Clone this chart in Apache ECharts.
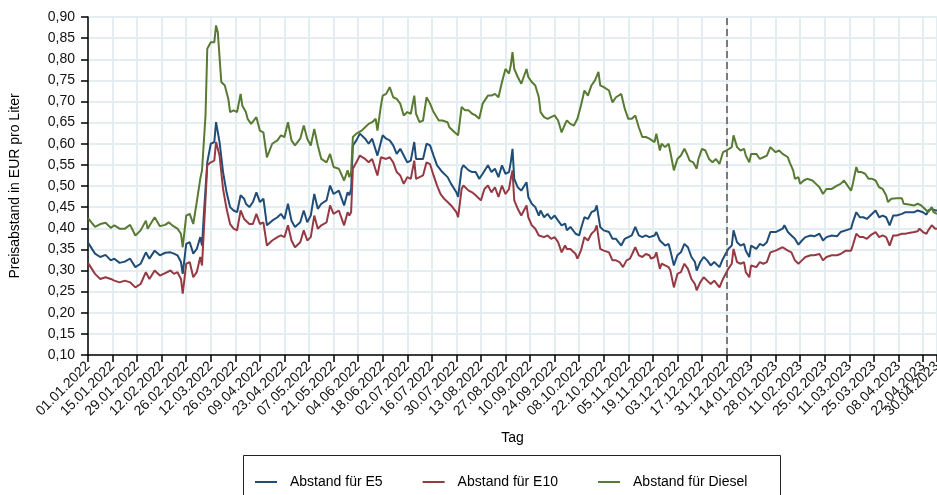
<!DOCTYPE html>
<html>
<head>
<meta charset="utf-8">
<script src="https://cdn.jsdelivr.net/npm/echarts@6/dist/echarts.min.js"></script>
<style>
html,body{margin:0;padding:0;background:#fff;}
#chart{width:937px;height:495px;}
</style>
</head>
<body>
<div id="chart"></div>
<script>
// Days counted from 01.01.2022 (day 0) to 30.04.2023 (day 484)
const startDate = [2022, 0, 1];
const dayCount = 485;
const markerDay = '31.12.2022';

// [day, EUR per litre]
const e5 = [[0,.366],[1,.363],[4,.340],[7,.332],[10,.337],[13,.324],[15,.328],[18,.318],[21,.321],[24,.328],[27,.308],[30,.316],[33,.343],[35,.328],[38,.347],[41,.336],[44,.342],[47,.343],[49,.340],[51,.336],[53,.320],[54,.292],[56,.363],[58,.367],[60,.340],[62,.351],[64,.379],[65,.359],[66,.430],[68,.556],[70,.600],[72,.604],[73,.651],[75,.604],[77,.533],[79,.485],[81,.450],[83,.442],[85,.438],[87,.478],[89,.470],[90,.458],[92,.450],[94,.462],[96,.485],[98,.462],[100,.470],[102,.407],[105,.418],[108,.426],[110,.434],[112,.422],[114,.458],[116,.418],[118,.403],[121,.414],[123,.442],[125,.414],[127,.430],[129,.481],[131,.446],[133,.458],[136,.466],[138,.501],[140,.481],[143,.489],[146,.454],[148,.485],[149,.478],[150,.493],[151,.596],[153,.608],[155,.624],[158,.612],[160,.600],[162,.612],[165,.572],[167,.604],[168,.620],[170,.612],[172,.608],[174,.596],[176,.576],[178,.588],[180,.572],[182,.556],[184,.560],[186,.604],[187,.564],[188,.560],[191,.564],[193,.600],[195,.596],[197,.572],[199,.549],[202,.533],[205,.521],[207,.505],[210,.485],[211,.474],[213,.541],[214,.549],[217,.537],[219,.533],[221,.533],[223,.517],[225,.529],[228,.549],[230,.533],[232,.541],[234,.521],[236,.549],[238,.529],[240,.533],[241,.556],[242,.588],[243,.517],[245,.497],[247,.489],[250,.509],[251,.474],[253,.458],[255,.450],[257,.430],[258,.442],[260,.426],[262,.434],[264,.422],[266,.430],[268,.418],[270,.407],[272,.411],[273,.395],[275,.403],[278,.387],[280,.383],[281,.399],[283,.426],[285,.422],[287,.438],[289,.442],[290,.454],[292,.403],[294,.395],[297,.391],[299,.375],[301,.375],[304,.359],[306,.375],[308,.379],[310,.383],[312,.403],[314,.383],[316,.379],[318,.383],[320,.379],[321,.375],[323,.383],[324,.391],[326,.371],[327,.367],[329,.359],[331,.363],[332,.347],[334,.312],[336,.336],[338,.343],[340,.363],[342,.355],[344,.332],[346,.320],[347,.300],[349,.320],[351,.332],[353,.324],[355,.312],[357,.320],[358,.324],[360,.308],[362,.328],[364,.343],[365,.351],[367,.359],[368,.395],[370,.367],[372,.359],[374,.363],[375,.347],[377,.332],[378,.359],[381,.351],[383,.363],[385,.359],[387,.367],[389,.391],[392,.391],[394,.395],[396,.399],[397,.407],[399,.391],[401,.383],[403,.375],[405,.361],[407,.371],[409,.379],[412,.383],[414,.381],[417,.387],[419,.371],[421,.379],[424,.383],[427,.381],[429,.391],[432,.395],[435,.399],[436,.414],[438,.438],[440,.426],[442,.426],[444,.422],[446,.430],[449,.442],[451,.426],[453,.430],[455,.426],[457,.407],[459,.430],[461,.430],[464,.434],[466,.438],[468,.438],[471,.438],[473,.442],[474,.446],[476,.438],[478,.432],[479,.442],[481,.446],[483,.442],[484,.442]];

const e10 = [[0,.318],[1,.316],[4,.292],[7,.280],[10,.284],[13,.280],[15,.276],[18,.272],[21,.276],[24,.272],[27,.260],[30,.268],[33,.296],[35,.280],[38,.300],[41,.288],[44,.294],[47,.300],[49,.292],[51,.296],[53,.280],[54,.245],[56,.316],[58,.320],[60,.284],[62,.296],[64,.332],[65,.312],[66,.390],[68,.549],[70,.556],[72,.560],[73,.604],[75,.572],[77,.493],[79,.446],[81,.410],[83,.399],[85,.395],[87,.442],[89,.422],[90,.422],[92,.410],[94,.410],[96,.434],[98,.410],[100,.414],[102,.359],[105,.371],[108,.379],[110,.383],[112,.379],[114,.407],[116,.371],[118,.355],[121,.367],[123,.395],[125,.371],[127,.379],[129,.430],[131,.399],[133,.407],[136,.414],[138,.454],[140,.434],[143,.442],[146,.407],[148,.438],[149,.430],[150,.438],[151,.541],[153,.556],[155,.572],[158,.564],[160,.556],[162,.564],[165,.525],[167,.568],[168,.572],[170,.564],[172,.568],[174,.556],[176,.533],[178,.525],[180,.505],[182,.521],[184,.517],[186,.560],[187,.517],[188,.517],[191,.525],[193,.556],[195,.552],[197,.525],[199,.501],[201,.481],[203,.470],[205,.462],[207,.454],[210,.438],[211,.426],[213,.493],[214,.501],[217,.489],[219,.485],[221,.478],[224,.466],[226,.493],[228,.501],[230,.485],[232,.497],[234,.474],[236,.501],[238,.481],[240,.493],[241,.517],[242,.537],[243,.466],[245,.446],[247,.430],[250,.454],[251,.426],[253,.407],[255,.399],[257,.383],[258,.383],[260,.379],[262,.383],[264,.375],[266,.379],[268,.367],[270,.343],[272,.359],[273,.351],[275,.351],[278,.339],[279,.328],[281,.347],[283,.379],[285,.371],[287,.387],[289,.395],[290,.407],[292,.351],[294,.347],[297,.343],[299,.324],[301,.324],[303,.320],[305,.308],[307,.324],[309,.328],[312,.355],[314,.336],[316,.332],[318,.339],[320,.336],[321,.328],[323,.332],[324,.343],[326,.304],[327,.316],[329,.312],[331,.308],[332,.300],[334,.260],[336,.292],[338,.296],[340,.316],[342,.304],[344,.280],[346,.268],[347,.253],[349,.272],[351,.284],[353,.276],[355,.268],[357,.276],[358,.276],[360,.260],[362,.280],[364,.296],[365,.304],[367,.316],[368,.351],[370,.320],[372,.316],[374,.320],[375,.296],[377,.284],[378,.312],[381,.308],[383,.320],[385,.316],[387,.320],[389,.343],[392,.347],[394,.351],[396,.355],[397,.355],[399,.347],[401,.343],[403,.324],[405,.316],[407,.324],[409,.332],[412,.336],[414,.336],[417,.339],[419,.324],[421,.332],[424,.336],[427,.336],[429,.339],[432,.347],[435,.347],[436,.359],[438,.387],[440,.379],[442,.379],[444,.375],[446,.383],[449,.391],[451,.379],[453,.383],[455,.379],[457,.359],[459,.383],[461,.383],[464,.387],[466,.387],[468,.389],[471,.391],[473,.393],[474,.399],[476,.391],[478,.387],[479,.395],[481,.407],[483,.399],[484,.399]];

const diesel = [[0,.424],[1,.422],[4,.403],[7,.410],[10,.413],[13,.401],[15,.407],[18,.399],[21,.399],[24,.408],[27,.383],[30,.395],[33,.418],[34,.399],[38,.426],[41,.405],[44,.408],[46,.414],[48,.407],[51,.399],[53,.387],[54,.355],[56,.430],[58,.434],[60,.410],[62,.462],[64,.517],[65,.537],[66,.533],[67,.667],[68,.825],[70,.840],[72,.840],[73,.880],[74,.864],[76,.746],[78,.738],[80,.706],[81,.675],[83,.679],[85,.675],[87,.718],[88,.690],[90,.675],[91,.659],[93,.647],[96,.663],[98,.631],[100,.627],[102,.568],[105,.600],[108,.608],[110,.620],[112,.616],[114,.651],[116,.608],[118,.596],[121,.612],[123,.643],[125,.612],[127,.596],[129,.635],[131,.596],[133,.564],[136,.556],[138,.576],[140,.545],[143,.541],[146,.513],[148,.537],[149,.521],[150,.533],[151,.616],[153,.624],[156,.631],[158,.639],[160,.647],[162,.651],[164,.659],[165,.631],[167,.690],[168,.714],[170,.718],[172,.734],[174,.710],[176,.706],[178,.695],[180,.667],[182,.675],[184,.671],[186,.714],[187,.671],[189,.651],[191,.655],[193,.710],[195,.695],[197,.675],[200,.655],[202,.655],[205,.651],[206,.639],[209,.627],[211,.620],[213,.687],[215,.679],[217,.679],[219,.671],[221,.667],[223,.659],[225,.695],[228,.714],[230,.714],[232,.718],[234,.710],[236,.746],[238,.777],[240,.766],[241,.785],[242,.817],[243,.777],[245,.758],[247,.742],[250,.777],[251,.758],[253,.746],[255,.738],[257,.710],[258,.675],[260,.663],[262,.659],[264,.663],[266,.667],[268,.655],[270,.627],[272,.647],[273,.655],[275,.647],[277,.643],[279,.659],[281,.690],[283,.726],[285,.714],[287,.738],[289,.750],[291,.770],[292,.738],[294,.734],[297,.726],[299,.698],[301,.710],[304,.718],[306,.683],[308,.659],[310,.659],[312,.667],[314,.639],[316,.616],[318,.616],[320,.612],[321,.616],[323,.604],[324,.624],[326,.584],[327,.600],[329,.592],[331,.600],[332,.580],[334,.537],[336,.564],[338,.572],[340,.588],[341,.580],[343,.560],[345,.556],[347,.541],[348,.564],[350,.588],[352,.584],[354,.564],[356,.556],[358,.564],[359,.568],[360,.552],[362,.580],[364,.584],[365,.588],[367,.592],[368,.620],[370,.592],[372,.584],[374,.588],[375,.572],[377,.556],[378,.576],[381,.576],[383,.564],[385,.568],[387,.572],[389,.592],[392,.580],[394,.584],[396,.576],[397,.580],[399,.568],[400,.556],[402,.537],[403,.517],[405,.521],[406,.505],[408,.513],[410,.517],[413,.513],[415,.505],[417,.497],[419,.481],[421,.493],[424,.493],[427,.501],[429,.505],[431,.513],[433,.501],[435,.489],[436,.505],[438,.545],[439,.533],[441,.533],[443,.529],[445,.517],[447,.517],[449,.513],[451,.497],[453,.493],[455,.478],[456,.462],[458,.470],[461,.471],[464,.471],[465,.458],[468,.456],[471,.454],[473,.458],[475,.454],[477,.446],[479,.438],[481,.450],[482,.438],[484,.434]];

const seriesNames = ['Abstand für E5', 'Abstand für E10', 'Abstand für Diesel'];
const seriesColors = ['#1f4d78', '#953a43', '#587a33'];
const yTitle = 'Preisabstand in EUR pro Liter';
const xTitle = 'Tag';

// category labels DD.MM.YYYY
const pad = n => (n < 10 ? '0' : '') + n;
const days = [];
for (let i = 0; i < dayCount; i++) {
  const d = new Date(Date.UTC(startDate[0], startDate[1], startDate[2] + i));
  days.push(pad(d.getUTCDate()) + '.' + pad(d.getUTCMonth() + 1) + '.' + d.getUTCFullYear());
}
function fill(pairs) {
  const arr = new Array(dayCount).fill(null);
  pairs.forEach(p => { arr[p[0]] = p[1]; });
  return arr;
}
const lastIdx = dayCount - 1;
const isRegular = (idx) => idx % 14 === 0;
const showTick = (idx) => isRegular(idx) || idx === lastIdx;
const FONT = '"Liberation Sans", Arial, Helvetica, sans-serif';

const chart = echarts.init(document.getElementById('chart'), null, {renderer: 'canvas'});
const gridColor = '#e4edf0';
const labelBase = {rotate: 45, fontSize: 14, color: '#111', margin: 9, fontFamily: FONT, hideOverlap: false};
chart.setOption({
  animation: false,
  backgroundColor: '#fff',
  textStyle: {fontFamily: FONT},
  grid: {left: 88, right: 0, top: 17, bottom: 140, outerBoundsMode: 'none', containLabel: false},
  legend: {
    left: 250, top: 470,
    itemWidth: 22, itemHeight: 2, itemGap: 40,
    icon: 'rect',
    textStyle: {fontSize: 14, color: '#000', fontFamily: FONT, padding: [0, 0, 0, 8]},
    data: seriesNames
  },
  graphic: [{
    type: 'rect', silent: true,
    shape: {x: 243.5, y: 455.5, width: 537, height: 60},
    style: {fill: 'none', stroke: '#222', lineWidth: 1}
  }],
  xAxis: [{
    type: 'category',
    data: days,
    boundaryGap: false,
    name: xTitle,
    nameLocation: 'middle',
    nameGap: 76,
    nameTextStyle: {fontSize: 14, color: '#000', fontFamily: FONT},
    axisLine: {show: true, onZero: false, lineStyle: {color: '#000', width: 1.5}},
    axisTick: {show: true, interval: (i) => showTick(i), length: 7, lineStyle: {color: '#000', width: 1.5}},
    axisLabel: Object.assign({interval: (i) => isRegular(i)}, labelBase),
    splitLine: {show: true, interval: (i) => showTick(i), lineStyle: {color: gridColor, width: 2}}
  }, {
    // second axis only carries the closing date label, so it may overlap the previous one
    type: 'category',
    data: days,
    boundaryGap: false,
    position: 'bottom',
    axisLine: {show: false, onZero: false},
    axisTick: {show: false},
    splitLine: {show: false},
    axisLabel: Object.assign({interval: (i) => i === lastIdx, showMaxLabel: true}, labelBase)
  }],
  yAxis: {
    type: 'value',
    min: 0.1, max: 0.9, interval: 0.05,
    name: yTitle,
    nameLocation: 'middle',
    nameGap: 66,
    nameTextStyle: {fontSize: 14, color: '#000', fontFamily: FONT},
    axisLine: {show: true, lineStyle: {color: '#000', width: 1.5}},
    axisTick: {show: true, length: 7, lineStyle: {color: '#000', width: 1.5}},
    axisLabel: {fontSize: 14, color: '#111', margin: 13, fontFamily: FONT,
      formatter: v => v.toFixed(2).replace('.', ',')},
    splitLine: {show: true, lineStyle: {color: gridColor, width: 2}}
  },
  series: [e5, e10, diesel].map((d, i) => ({
    name: seriesNames[i],
    type: 'line',
    xAxisIndex: 0,
    data: fill(d),
    connectNulls: true,
    showSymbol: false,
    symbol: 'none',
    color: seriesColors[i],
    lineStyle: {color: seriesColors[i], width: 2},
    z: 3 + i,
    markLine: i === 0 ? {
      silent: true, symbol: ['none', 'none'],
      label: {show: false},
      lineStyle: {color: '#555', type: [7, 4], width: 1.5},
      data: [{xAxis: markerDay}]
    } : undefined
  }))
});
</script>
</body>
</html>
